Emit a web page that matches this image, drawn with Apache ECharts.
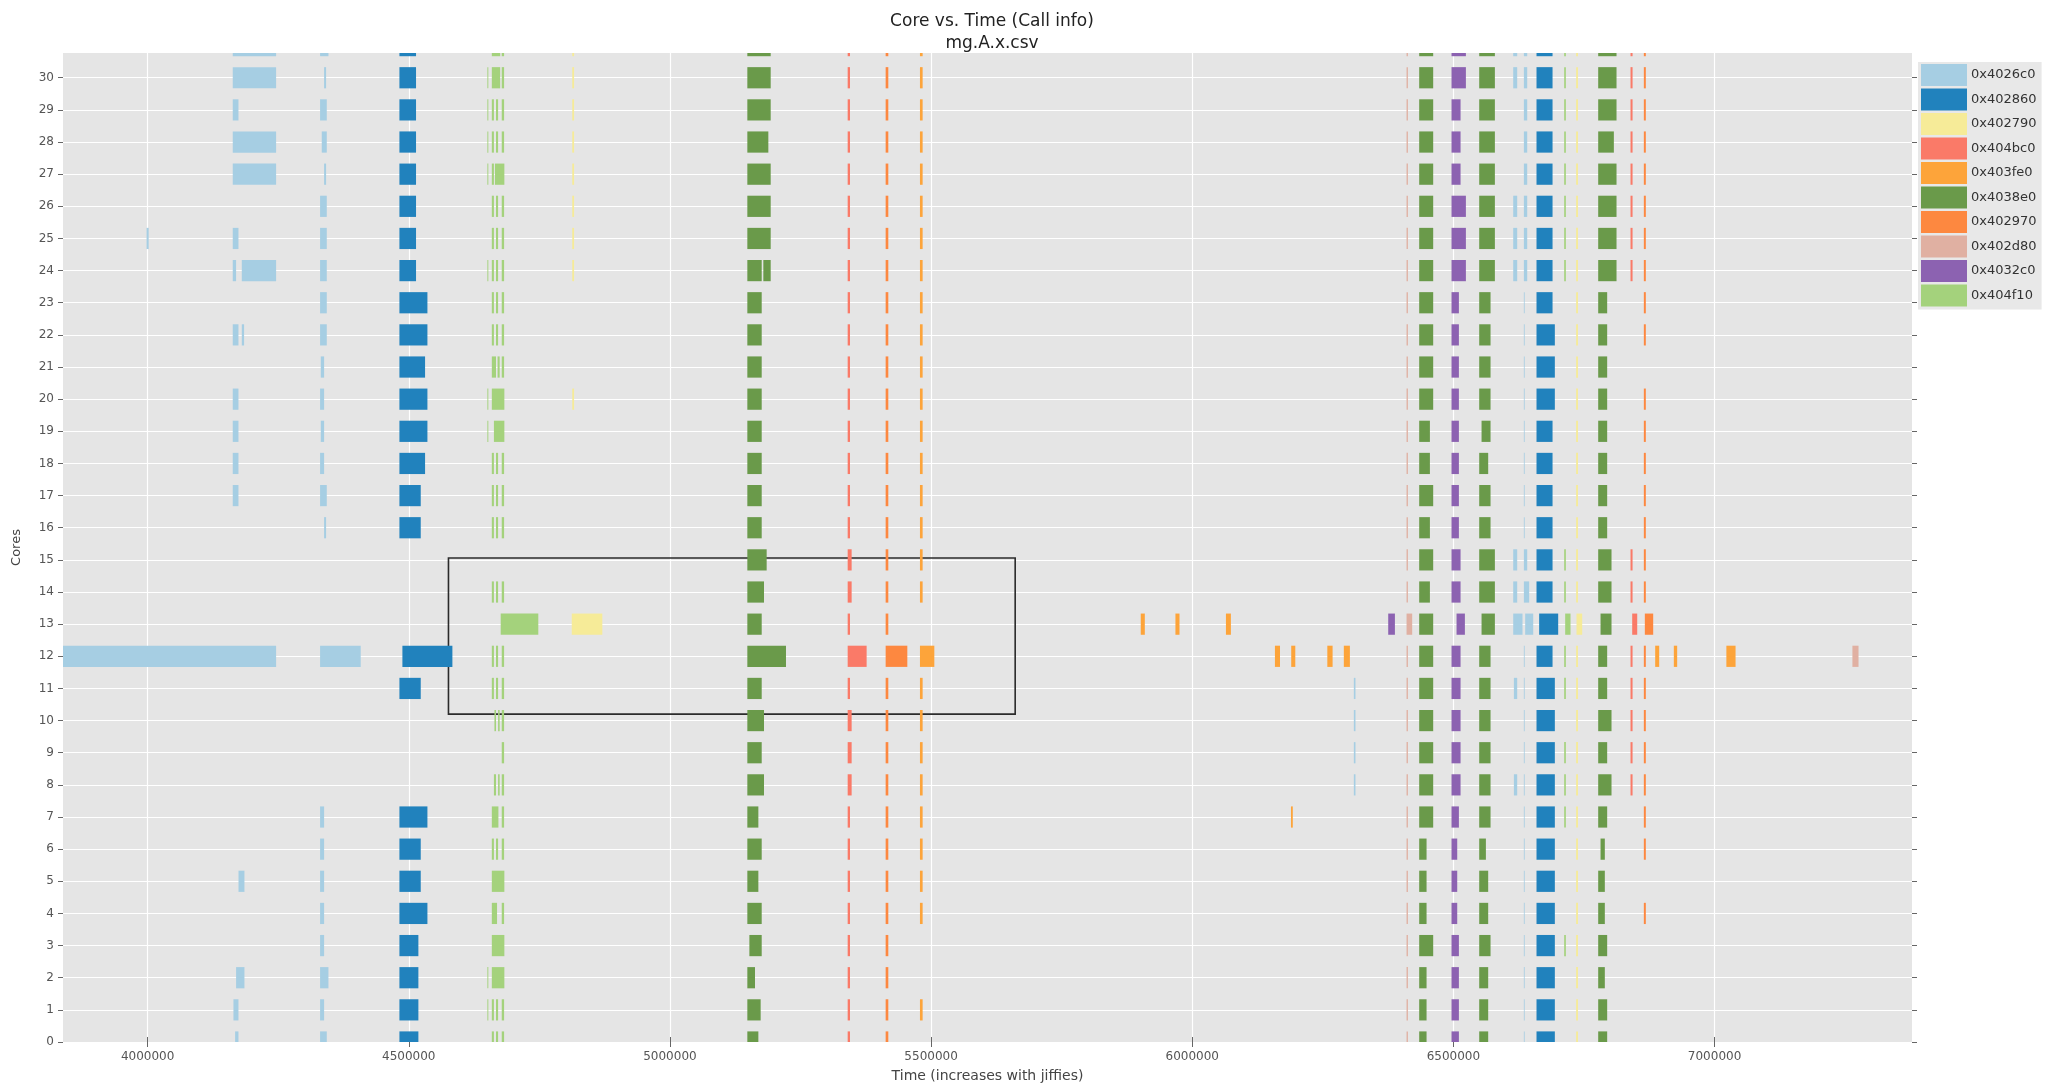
<!DOCTYPE html>
<html>
<head>
<meta charset="utf-8">
<script src="https://cdn.jsdelivr.net/npm/echarts@6/dist/echarts.min.js"></script>
<style>
  html, body { margin: 0; padding: 0; background: #ffffff; }
  #chart { width: 2065px; height: 1088px; }
</style>
</head>
<body>
<div id="chart"></div>
<script>
// Call spans per function address. Each entry: [start jiffy, end jiffy, cores that ran it].
const FUNCTIONS = ['0x4026c0', '0x402860', '0x402790', '0x404bc0', '0x403fe0',
                   '0x4038e0', '0x402970', '0x402d80', '0x4032c0', '0x404f10'];

const CALLS_4026c0 = [
  [3838000, 4246000, [12]],
  [4163000, 4246000, [31, 30, 28, 27]],
  [4163000, 4173900, [29, 25, 22, 20, 19, 18, 17]],
  [4163000, 4169400, [24]],
  [4180300, 4246000, [24]],
  [4180300, 4184700, [22]],
  [4174000, 4185400, [5]],
  [4169400, 4185400, [2]],
  [4164300, 4173900, [1]],
  [4167500, 4173900, [0]],
  [3998000, 4002000, [25]],
  [4330200, 4346200, [31, 2]],
  [4337900, 4341700, [30, 27, 16]],
  [4330200, 4343000, [29, 26, 25, 24, 23, 22, 17, 0]],
  [4333400, 4343000, [28]],
  [4331500, 4337900, [21, 19]],
  [4330200, 4337900, [20, 18, 7, 6, 5, 4, 3, 1]],
  [4330200, 4408000, [12]],
  [6309400, 6312500, [11, 10, 9, 8]],
  [6614500, 6622100, [31, 30, 26, 25, 24, 15, 14]],
  [6634900, 6641300, [31, 30, 29, 28, 27, 26, 25, 24, 15]],
  [6634900, 6645100, [14]],
  [6614500, 6632300, [13]],
  [6637400, 6652800, [13]],
  [6615800, 6622100, [11, 8]],
  [6634900, 6636300, [23, 22, 21, 20, 19, 18, 17, 16, 12, 11, 10, 9, 8, 7, 6, 5, 4, 3, 2, 1, 0]]
];

const CALLS_402860 = [
  [4482100, 4513900, [31, 30, 29, 28, 27, 26, 25, 24]],
  [4482100, 4535700, [23, 22, 20, 19, 7, 4]],
  [4482100, 4531200, [21, 18]],
  [4482100, 4522900, [17, 16, 11, 6, 5]],
  [4482100, 4518400, [3, 2, 1, 0]],
  [4487800, 4583500, [12]],
  [6659100, 6689800, [31, 30, 29, 28, 27, 26, 25, 24, 23, 19, 18, 17, 16, 15, 14, 12]],
  [6659100, 6694200, [22, 21, 20, 11, 10, 9, 8, 7, 6, 5, 4, 3, 2, 1, 0]],
  [6664200, 6700600, [13]]
];

const CALLS_402790 = [
  [4813000, 4816500, [31, 30, 29, 28, 27, 26, 25, 24, 20]],
  [4812000, 4870600, [13]],
  [6735000, 6738500, [31, 30, 29, 28, 27, 26, 25, 24, 23, 22, 21, 20, 19, 18, 17, 16,
                      15, 14, 12, 11, 10, 9, 8, 7, 6, 5, 4, 3, 2, 1, 0]],
  [6735700, 6746600, [13]]
];

const CALLS_404bc0 = [
  [5340300, 5344700, [31, 30, 29, 28, 27, 26, 25, 24, 23, 22, 21, 20, 19, 18, 17, 16,
                      13, 11, 7, 6, 5, 4, 3, 2, 1, 0]],
  [5340300, 5347900, [15, 14, 10, 9, 8]],
  [5340300, 5376600, [12]],
  [6839100, 6843000, [31, 30, 29, 28, 27, 26, 25, 24, 15, 14, 12, 11, 10, 9, 8]],
  [6842300, 6851900, [13]]
];

const CALLS_403fe0 = [
  [5478700, 5483800, [31, 30, 29, 28, 27, 26, 25, 24, 23, 22, 21, 20, 19, 18, 17, 16, 15, 14,
                      11, 10, 9, 8, 7, 6, 5, 4, 1]],
  [5478700, 5506200, [12]],
  [5901400, 5909200, [13]],
  [5967800, 5975600, [13]],
  [6064500, 6074000, [13]],
  [6158300, 6168000, [12]],
  [6189500, 6197300, [12]],
  [6258600, 6268700, [12]],
  [6290200, 6301800, [12]],
  [6886300, 6894000, [12]],
  [6922000, 6928400, [12]],
  [7022600, 7040200, [12]],
  [6189000, 6192500, [7]]
];

const CALLS_4038e0 = [
  [5148200, 5192900, [31, 30, 29, 27, 26, 25]],
  [5148200, 5188400, [28]],
  [5148200, 5175700, [24, 23, 22, 21, 20, 19, 18, 17, 16, 13, 11, 9, 6, 4]],
  [5178800, 5192900, [24]],
  [5148200, 5185200, [15]],
  [5148200, 5180100, [14, 10, 8]],
  [5148200, 5222200, [12]],
  [5148200, 5169300, [7, 5, 0]],
  [5152100, 5175700, [3]],
  [5148200, 5162900, [2]],
  [5148200, 5173700, [1]],
  [6434500, 6461300, [31, 30, 29, 28, 27, 26, 25, 24, 23, 22, 21, 20, 17, 15, 13, 12, 11, 10, 9, 8, 7, 3]],
  [6434500, 6455000, [19, 18, 16, 14]],
  [6434500, 6448600, [6, 5, 4, 2, 1, 0]],
  [6549400, 6579400, [31, 30, 29, 28, 27, 26, 25, 24, 15, 14]],
  [6549400, 6571100, [23, 22, 21, 20, 17, 16, 12, 11, 10, 9, 8, 7, 3]],
  [6553900, 6571100, [19]],
  [6553900, 6579400, [13]],
  [6549400, 6566600, [18, 5, 4, 2, 1, 0]],
  [6549400, 6562200, [6]],
  [6777200, 6812300, [31, 30, 29, 27, 26, 25, 24]],
  [6777200, 6807200, [28]],
  [6777200, 6794400, [23, 22, 21, 20, 19, 18, 17, 16, 12, 11, 9, 7, 3, 1, 0]],
  [6777200, 6802700, [15, 14, 10, 8]],
  [6781700, 6802700, [13]],
  [6781700, 6789900, [6]],
  [6777200, 6789900, [5, 4, 2]]
];

const CALLS_402970 = [
  [5413000, 5418100, [31, 30, 29, 28, 27, 26, 25, 24, 23, 22, 21, 20, 19, 18, 17, 16,
                      15, 14, 13, 11, 10, 9, 8, 7, 6, 5, 4, 3, 2, 1, 0]],
  [5413000, 5454500, [12]],
  [6864600, 6868400, [31, 30, 29, 28, 27, 26, 25, 24, 23, 22, 20, 19, 18, 17, 16,
                      15, 14, 12, 11, 10, 9, 8, 7, 6, 4]],
  [6866500, 6882500, [13]]
];

const CALLS_402d80 = [
  [6410300, 6412900, [31, 30, 29, 28, 27, 26, 25, 24, 23, 22, 21, 20, 19, 18, 17, 16,
                      15, 14, 12, 11, 10, 9, 8, 7, 6, 5, 4, 3, 2, 1, 0]],
  [6410300, 6421100, [13]],
  [7263900, 7275600, [12]]
];

const CALLS_4032c0 = [
  [6496400, 6523900, [31, 30, 26, 25, 24]],
  [6496400, 6513700, [29, 28, 27, 15, 14, 12, 11, 10, 9, 8]],
  [6496400, 6510500, [23, 22, 21, 20, 19, 18, 17, 16, 7, 3, 2, 1, 0]],
  [6496400, 6507300, [6, 5, 4]],
  [6506000, 6522000, [13]],
  [6375200, 6388000, [13]]
];

const CALLS_404f10 = [
  [4650500, 4652300, [30, 29, 28, 27, 24, 20, 19, 2, 1]],
  [4659000, 4663000, [29, 28, 27, 26, 25, 24, 23, 22, 18, 17, 16, 14, 12, 11, 6, 1, 0]],
  [4667000, 4671000, [29, 28, 26, 25, 24, 23, 22, 18, 17, 16, 14, 12, 11, 6, 1, 0]],
  [4678000, 4682500, [31, 30, 29, 28, 26, 25, 24, 23, 22, 21, 18, 17, 16, 14, 12, 11,
                      10, 9, 8, 7, 6, 4, 1, 0]],
  [4659000, 4675000, [31, 30]],
  [4665000, 4683000, [27]],
  [4659000, 4667000, [21]],
  [4670000, 4674000, [21]],
  [4659000, 4683000, [20, 5, 3, 2]],
  [4663000, 4683000, [19]],
  [4664000, 4667000, [10]],
  [4671000, 4674000, [10, 8]],
  [4663000, 4667000, [8]],
  [4659000, 4671600, [7]],
  [4659000, 4669000, [4]],
  [4676000, 4748000, [13]],
  [6712100, 6715300, [31, 30, 29, 28, 27, 26, 25, 24, 15, 14, 12, 11, 9, 8, 7, 3]],
  [6714000, 6724200, [13]]
];

const CALLS = [CALLS_4026c0, CALLS_402860, CALLS_402790, CALLS_404bc0, CALLS_403fe0,
               CALLS_4038e0, CALLS_402970, CALLS_402d80, CALLS_4032c0, CALLS_404f10];

const COLORS = ['#a6cee3', '#2182bd', '#f6eb98', '#fa7a68', '#fda43a',
                '#6a9a4a', '#fd8840', '#e0b0a2', '#8c62b1', '#a4d27c'];

// Axis ticks
const TIME_TICKS = [4000000, 4500000, 5000000, 5500000, 6000000, 6500000, 7000000];
const CORE_TICKS = [0, 1, 2, 3, 4, 5, 6, 7, 8, 9, 10, 11, 12, 13, 14, 15,
                    16, 17, 18, 19, 20, 21, 22, 23, 24, 25, 26, 27, 28, 29, 30];
const TIME_RANGE = [3838000, 7378000];
const CORE_RANGE = [0, 30.77];

// Highlighted window: [time, core] corners
const SELECTION = [[4576000, 10.2], [5661000, 15.06]];

const BAR_HEIGHT = 0.66; // bar thickness in core units

function expand(entries) {
  const out = [];
  entries.forEach(([s, e, cores]) => cores.forEach(c => out.push([c, s, e])));
  return out;
}

function renderSpan(params, api) {
  const core = api.value(0);
  const a = api.coord([api.value(1), core]);
  const b = api.coord([api.value(2), core]);
  const h = api.size([0, BAR_HEIGHT])[1];
  const cs = params.coordSys;
  const shape = echarts.graphic.clipRectByRect(
    { x: a[0], y: a[1] - h / 2, width: Math.max(b[0] - a[0], 0.8), height: h },
    { x: cs.x, y: cs.y, width: cs.width, height: cs.height }
  );
  return shape && { type: 'rect', shape: shape, style: api.style() };
}

const FONT = 'DejaVu Sans';
const chart = echarts.init(document.getElementById('chart'), null, { renderer: 'canvas' });

const series = FUNCTIONS.map((name, i) => ({
  type: 'custom',
  name: name,
  renderItem: renderSpan,
  encode: { x: [1, 2], y: 0 },
  itemStyle: { color: COLORS[i] },
  data: expand(CALLS[i]),
  z: 2
}));

series.push({
  type: 'line',
  name: 'window',
  data: [],
  silent: true,
  z: 5,
  markArea: {
    silent: true,
    itemStyle: { color: 'rgba(0,0,0,0)', borderColor: '#2b2b2b', borderWidth: 1.6 },
    data: [[{ coord: SELECTION[0] }, { coord: SELECTION[1] }]]
  }
});

const tickStyle = { show: true, length: 5, inside: false, lineStyle: { color: '#666', width: 1 } };

chart.setOption({
  animation: false,
  color: COLORS,
  title: {
    text: 'Core vs. Time (Call info)\nmg.A.x.csv',
    left: 987,
    top: 6,
    textAlign: 'center',
    textStyle: { fontFamily: FONT, fontSize: 17, fontWeight: 'normal', color: '#222', lineHeight: 22 }
  },
  legend: {
    data: FUNCTIONS,
    orient: 'vertical',
    left: 1918,
    top: 62,
    icon: 'rect',
    itemWidth: 46,
    itemHeight: 22,
    itemGap: 2.5,
    padding: [2, 5, 3, 3],
    backgroundColor: '#e8e8e8',
    textStyle: { fontFamily: FONT, fontSize: 13, color: '#333', padding: [0, 0, 0, -1] }
  },
  grid: {
    left: 63, right: 153, top: 53, bottom: 46,
    show: true, backgroundColor: '#e5e5e5', borderWidth: 0
  },
  xAxis: [{
    type: 'value',
    min: TIME_RANGE[0], max: TIME_RANGE[1],
    name: 'Time (increases with jiffies)',
    nameLocation: 'middle',
    nameGap: 27,
    nameTextStyle: { fontFamily: FONT, fontSize: 14, color: '#444' },
    axisLine: { show: false },
    axisTick: Object.assign({ customValues: TIME_TICKS }, tickStyle),
    axisLabel: {
      customValues: TIME_TICKS, fontFamily: FONT, fontSize: 12, color: '#555', margin: 9,
      formatter: v => String(v)
    },
    splitLine: { show: true, lineStyle: { color: '#ffffff', width: 1.2 } }
  }, {
    type: 'value',
    position: 'top',
    min: TIME_RANGE[0], max: TIME_RANGE[1],
    axisLine: { show: false },
    axisTick: Object.assign({ customValues: TIME_TICKS }, tickStyle),
    axisLabel: { show: false },
    splitLine: { show: false }
  }],
  yAxis: [{
    type: 'value',
    min: CORE_RANGE[0], max: CORE_RANGE[1],
    name: 'Cores',
    nameLocation: 'middle',
    nameGap: 40,
    nameTextStyle: { fontFamily: FONT, fontSize: 13, color: '#444' },
    axisLine: { show: false },
    axisTick: Object.assign({ customValues: CORE_TICKS }, tickStyle),
    axisLabel: {
      customValues: CORE_TICKS, fontFamily: FONT, fontSize: 12, color: '#555', margin: 9,
      formatter: v => String(v)
    },
    splitLine: { show: true, lineStyle: { color: '#ffffff', width: 1.2 } }
  }, {
    type: 'value',
    position: 'right',
    min: CORE_RANGE[0], max: CORE_RANGE[1],
    axisLine: { show: false },
    axisTick: Object.assign({ customValues: CORE_TICKS }, tickStyle),
    axisLabel: { show: false },
    splitLine: { show: false }
  }],
  series: series
});
</script>
</body>
</html>
